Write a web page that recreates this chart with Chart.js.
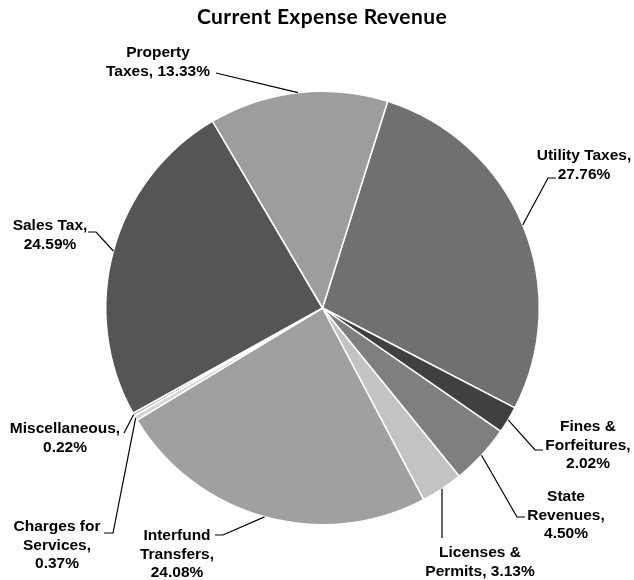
<!DOCTYPE html>
<html>
<head>
<meta charset="utf-8">
<script src="https://cdn.jsdelivr.net/npm/chart.js@4.4.1/dist/chart.umd.min.js"></script>
<style>
  html, body { margin: 0; padding: 0; background: #ffffff; }
  #wrap { width: 634px; height: 580px; }
</style>
</head>
<body>
<div id="wrap"><canvas id="myChart" width="634" height="580"></canvas></div>
<script>
// data (percent of current expense revenue)
var categories = ['Utility Taxes', 'Fines & Forfeitures', 'State Revenues', 'Licenses & Permits',
    'Interfund Transfers', 'Charges for Services', 'Miscellaneous', 'Sales Tax', 'Property Taxes'];
var shares = [27.76, 2.02, 4.50, 3.13, 24.08, 0.37, 0.22, 24.59, 13.33];
var sliceColors = ['#707070', '#404040', '#7f7f7f', '#c3c3c3', '#a0a0a0', '#d4d4d4', '#b4b4b4', '#555555', '#9d9d9d'];

// label text lines, as they are wrapped in the picture
var labelLines = [
    ['Utility Taxes,', '27.76%'],
    ['Fines &', 'Forfeitures,', '2.02%'],
    ['State', 'Revenues,', '4.50%'],
    ['Licenses &', 'Permits, 3.13%'],
    ['Interfund', 'Transfers,', '24.08%'],
    ['Charges for', 'Services,', '0.37%'],
    ['Miscellaneous,', '0.22%'],
    ['Sales Tax,', '24.59%'],
    ['Property', 'Taxes, 13.33%']
];

// where each label sits and how its leader line bends (x, y of first line centre; leader points)
var labelPlace = [
    { x: 584, y: 156, lead: [[556, 178], [548, 178]] },
    { x: 588, y: 427, lead: [[543, 450], [535, 450]] },
    { x: 566, y: 497, lead: [[525, 517], [517, 517]] },
    { x: 480, y: 553, lead: [[442, 538]] },
    { x: 177, y: 536, lead: [[215, 535], [223, 535]] },
    { x: 57, y: 527, lead: [[104, 533], [113, 533]] },
    { x: 65, y: 429, lead: [[124, 433]] },
    { x: 50, y: 226, lead: [[88, 232], [96, 232]] },
    { x: 158, y: 53, lead: [[216, 73]] }
];

var leaderLabels = {
    id: 'leaderLabels',
    afterDatasetsDraw: function(chart) {
        var ctx = chart.ctx;
        var arcs = chart.getDatasetMeta(0).data;
        ctx.save();
        // title
        ctx.fillStyle = '#000000';
        ctx.font = 'bold 21px Lato, "Open Sans", sans-serif';
        ctx.letterSpacing = '0.4px';
        ctx.textAlign = 'center';
        ctx.textBaseline = 'alphabetic';
        ctx.fillText('Current Expense Revenue', 322, 24);
        ctx.letterSpacing = '0px';

        ctx.textBaseline = 'middle';
        ctx.font = 'bold 15.5px "Liberation Sans", Arial, sans-serif';
        ctx.strokeStyle = '#000000';
        ctx.lineWidth = 1.2;
        arcs.forEach(function(arc, i) {
            var p = arc.getProps(['x', 'y', 'startAngle', 'endAngle', 'outerRadius'], true);
            var mid = (p.startAngle + p.endAngle) / 2;
            var ax = p.x + Math.cos(mid) * p.outerRadius;
            var ay = p.y + Math.sin(mid) * p.outerRadius;
            var place = labelPlace[i];
            ctx.beginPath();
            ctx.moveTo(place.lead[0][0], place.lead[0][1]);
            for (var k = 1; k < place.lead.length; k++) {
                ctx.lineTo(place.lead[k][0], place.lead[k][1]);
            }
            ctx.lineTo(ax, ay);
            ctx.stroke();
            labelLines[i].forEach(function(line, j) {
                ctx.fillText(line, place.x, place.y + j * 18.5);
            });
        });
        ctx.restore();
    }
};

var ctx = document.getElementById('myChart').getContext('2d');
var myPieChart = new Chart(ctx, {
    type: 'pie',
    data: {
        labels: categories,
        datasets: [{
            data: shares,
            backgroundColor: sliceColors,
            borderColor: '#ffffff',
            borderWidth: 1.5,
            hoverOffset: 0
        }]
    },
    options: {
        responsive: false,
        animation: false,
        rotation: 17.5,
        layout: { padding: { left: 105, right: 94, top: 90, bottom: 54 } },
        plugins: {
            legend: { display: false },
            tooltip: { enabled: false },
            title: { display: false }
        }
    },
    plugins: [leaderLabels]
});
</script>
</body>
</html>
